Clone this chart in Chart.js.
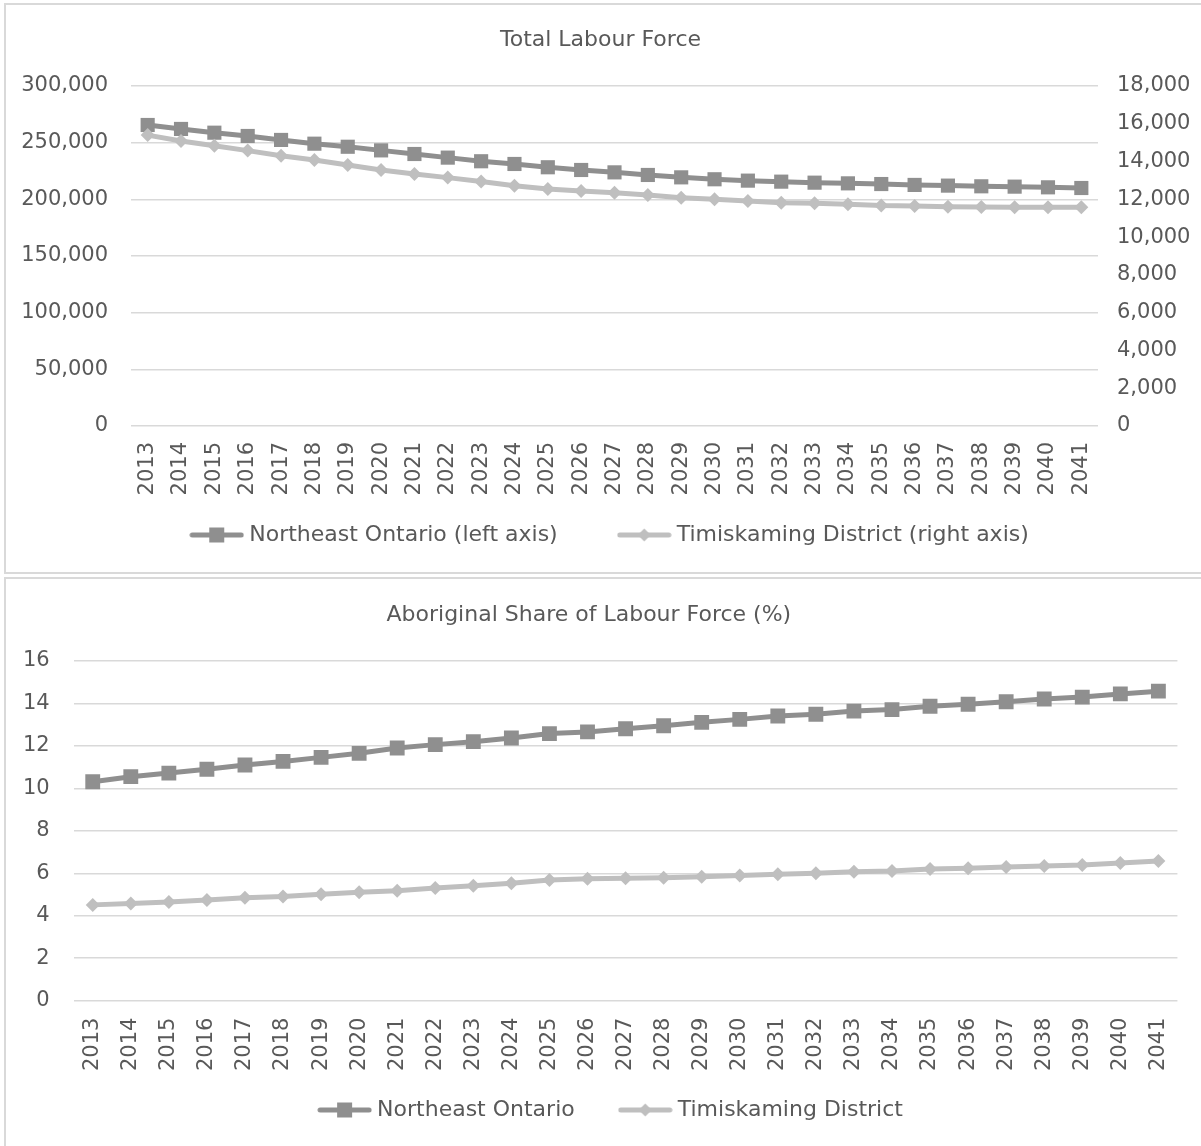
<!DOCTYPE html>
<html>
<head>
<meta charset="utf-8">
<title>Labour Force Projections</title>
<script src="https://cdn.jsdelivr.net/npm/chart.js@4/dist/chart.umd.min.js"></script>
<style>
  html, body { margin: 0; padding: 0; background: #ffffff; }
  body { position: relative; width: 1201px; height: 1146px; overflow: hidden; }
  canvas { position: absolute; left: 0; }
  .panel { position: absolute; box-sizing: border-box; border: 2px solid #d9d9d9; pointer-events: none; }
</style>
</head>
<body>
<canvas id="labourForce" width="1201" height="576" style="top:0px"></canvas>
<canvas id="aboriginalShare" width="1201" height="570" style="top:576px"></canvas>
<div class="panel" style="left:4px; top:3px; width:1212px; height:571px;"></div>
<div class="panel" style="left:4px; top:577px; width:1212px; height:600px;"></div>

<script>
// Projection years shared by both charts
const years = ['2013', '2014', '2015', '2016', '2017', '2018', '2019', '2020', '2021', '2022',
  '2023', '2024', '2025', '2026', '2027', '2028', '2029', '2030', '2031', '2032',
  '2033', '2034', '2035', '2036', '2037', '2038', '2039', '2040', '2041'];

// Total labour force
const northeastLabourForce = [265600, 262100, 258800, 255900, 252400, 249100, 246400, 243200,
  240000, 236800, 233600, 231200, 228300, 225900, 223800, 221500, 219400, 217700, 216500,
  215600, 214700, 214100, 213500, 212700, 212100, 211500, 211200, 210600, 210000];
const timiskamingLabourForce = [15400, 15090, 14840, 14580, 14310, 14080, 13820, 13550,
  13340, 13150, 12940, 12720, 12550, 12440, 12350, 12230, 12090, 12000, 11910, 11820,
  11790, 11740, 11670, 11650, 11610, 11590, 11580, 11580, 11580];

// Aboriginal share of the labour force (%)
const northeastAboriginalShare = [10.31, 10.55, 10.72, 10.90, 11.10, 11.27, 11.46, 11.65,
  11.90, 12.06, 12.20, 12.37, 12.58, 12.66, 12.81, 12.95, 13.11, 13.25, 13.41, 13.49,
  13.64, 13.71, 13.87, 13.96, 14.08, 14.21, 14.30, 14.45, 14.58];
const timiskamingAboriginalShare = [4.51, 4.58, 4.65, 4.74, 4.85, 4.91, 5.01, 5.10, 5.18,
  5.31, 5.41, 5.53, 5.68, 5.74, 5.76, 5.79, 5.84, 5.89, 5.95, 6.00, 6.07, 6.11, 6.20,
  6.23, 6.29, 6.34, 6.39, 6.48, 6.58];

// Axis tick values
const labourLeftTicks = [0, 50000, 100000, 150000, 200000, 250000, 300000];
const labourRightTicks = [0, 2000, 4000, 6000, 8000, 10000, 12000, 14000, 16000, 18000];
const shareTicks = [0, 2, 4, 6, 8, 10, 12, 14, 16];

const DARK = '#8f8f8f';
const LIGHT = '#bfbfbf';
const GRID = '#d9d9d9';
const TEXT = '#595959';
const FAMILY = "'DejaVu Sans', sans-serif";
const TEXT_FONT = { family: FAMILY, size: 22, weight: 'normal' };
const TICK_FONT = { family: FAMILY, size: 21, weight: 'normal' };

Chart.defaults.font.family = FAMILY;
Chart.defaults.color = TEXT;

// Legend key: a short line with the series marker in the middle
function legendKey(color, shape, markerSize) {
  const c = document.createElement('canvas');
  c.width = 55; c.height = 22;
  const g = c.getContext('2d');
  g.strokeStyle = color; g.fillStyle = color;
  g.lineWidth = 5; g.lineCap = 'round';
  g.beginPath(); g.moveTo(3, 11); g.lineTo(52, 11); g.stroke();
  const h = markerSize / 2;
  g.beginPath();
  if (shape === 'rect') {
    g.rect(27.5 - h, 11 - h, markerSize, markerSize);
  } else {
    g.moveTo(27.5, 11 - h); g.lineTo(27.5 + h, 11); g.lineTo(27.5, 11 + h); g.lineTo(27.5 - h, 11);
    g.closePath();
  }
  g.fill();
  return c;
}

const keys = [legendKey(DARK, 'rect', 15), legendKey(LIGHT, 'diamond', 13)];

// One-row legend centred under the plot: key, small gap, label
const seriesLegend = {
  id: 'seriesLegend',
  afterDraw(chart, args, opts) {
    const ctx = chart.ctx;
    ctx.save();
    ctx.font = `${TEXT_FONT.size}px ${FAMILY}`;
    const keyGap = 5;
    const items = chart.data.datasets.map((ds, i) => ({
      key: keys[i], text: ds.label, w: ctx.measureText(ds.label).width
    }));
    const total = items.reduce((s, it) => s + it.key.width + keyGap + it.w, 0) + opts.gap * (items.length - 1);
    let x = opts.centerX - total / 2;
    ctx.fillStyle = TEXT;
    ctx.textBaseline = 'middle';
    ctx.textAlign = 'left';
    items.forEach(it => {
      ctx.drawImage(it.key, x, opts.y - it.key.height / 2);
      x += it.key.width + keyGap;
      ctx.fillText(it.text, x, opts.y);
      x += it.w + opts.gap;
    });
    ctx.restore();
  }
};

function series(label, data, color, shape, radius, axisId, order) {
  const ds = {
    label: label,
    data: data,
    borderColor: color,
    backgroundColor: color,
    borderWidth: 5,
    tension: 0,
    pointStyle: shape,
    pointRadius: radius,
    pointHoverRadius: radius,
    pointBorderWidth: 0,
    pointBackgroundColor: color,
    order: order
  };
  if (axisId) ds.yAxisID = axisId;
  return ds;
}

function xAxis(padding, height) {
  return {
    type: 'category',
    offset: true,
    grid: { display: false, drawTicks: false },
    border: { display: false },
    ticks: { autoSkip: false, minRotation: 90, maxRotation: 90, padding: padding, color: TEXT, font: TICK_FONT },
    afterFit: s => { s.height = height; }
  };
}

function valueAxis(position, ticks, padding, width, showGrid) {
  return {
    position: position,
    min: ticks[0],
    max: ticks[ticks.length - 1],
    grid: { display: showGrid, color: GRID, lineWidth: 1.5, drawTicks: false },
    border: { display: false },
    ticks: {
      padding: padding,
      color: TEXT,
      font: TICK_FONT,
      callback: v => Number(v).toLocaleString('en-US')
    },
    afterBuildTicks: s => { s.ticks = ticks.map(v => ({ value: v })); },
    afterFit: s => { s.width = width; }
  };
}

// Top chart: total labour force, two value axes
new Chart(document.getElementById('labourForce'), {
  type: 'line',
  data: {
    labels: years,
    datasets: [
      series('Northeast Ontario (left axis)', northeastLabourForce, DARK, 'rect', 10, 'yLeft', 1),
      series('Timiskaming District (right axis)', timiskamingLabourForce, LIGHT, 'rectRot', 7, 'yRight', 0)
    ]
  },
  plugins: [seriesLegend],
  options: {
    responsive: false,
    animation: false,
    devicePixelRatio: 1,
    layout: { padding: 0 },
    plugins: {
      title: { display: true, text: 'Total Labour Force', color: TEXT, font: TEXT_FONT, padding: { top: 27, bottom: 32.6 } },
      legend: { display: false },
      tooltip: { enabled: false },
      seriesLegend: { centerX: 609, y: 535, gap: 59 }
    },
    scales: {
      x: xAxis(16, 150),
      yLeft: valueAxis('left', labourLeftTicks, 23, 131, true),
      yRight: valueAxis('right', labourRightTicks, 19, 103, false)
    }
  }
});

// Bottom chart: Aboriginal share of labour force
new Chart(document.getElementById('aboriginalShare'), {
  type: 'line',
  data: {
    labels: years,
    datasets: [
      series('Northeast Ontario', northeastAboriginalShare, DARK, 'rect', 10.5, null, 1),
      series('Timiskaming District', timiskamingAboriginalShare, LIGHT, 'rectRot', 7, null, 0)
    ]
  },
  plugins: [seriesLegend],
  options: {
    responsive: false,
    animation: false,
    devicePixelRatio: 1,
    layout: { padding: { left: 0, right: 23.3, top: 0, bottom: 0 } },
    plugins: {
      title: { display: true, text: 'Aboriginal Share of Labour Force (%)', color: TEXT, font: TEXT_FONT, padding: { top: 25.8, bottom: 32.8 } },
      legend: { display: false },
      tooltip: { enabled: false },
      seriesLegend: { centerX: 610, y: 534, gap: 43 }
    },
    scales: {
      x: xAxis(17, 145.4),
      y: valueAxis('left', shareTicks, 24, 73.7, true)
    }
  }
});
</script>
</body>
</html>
